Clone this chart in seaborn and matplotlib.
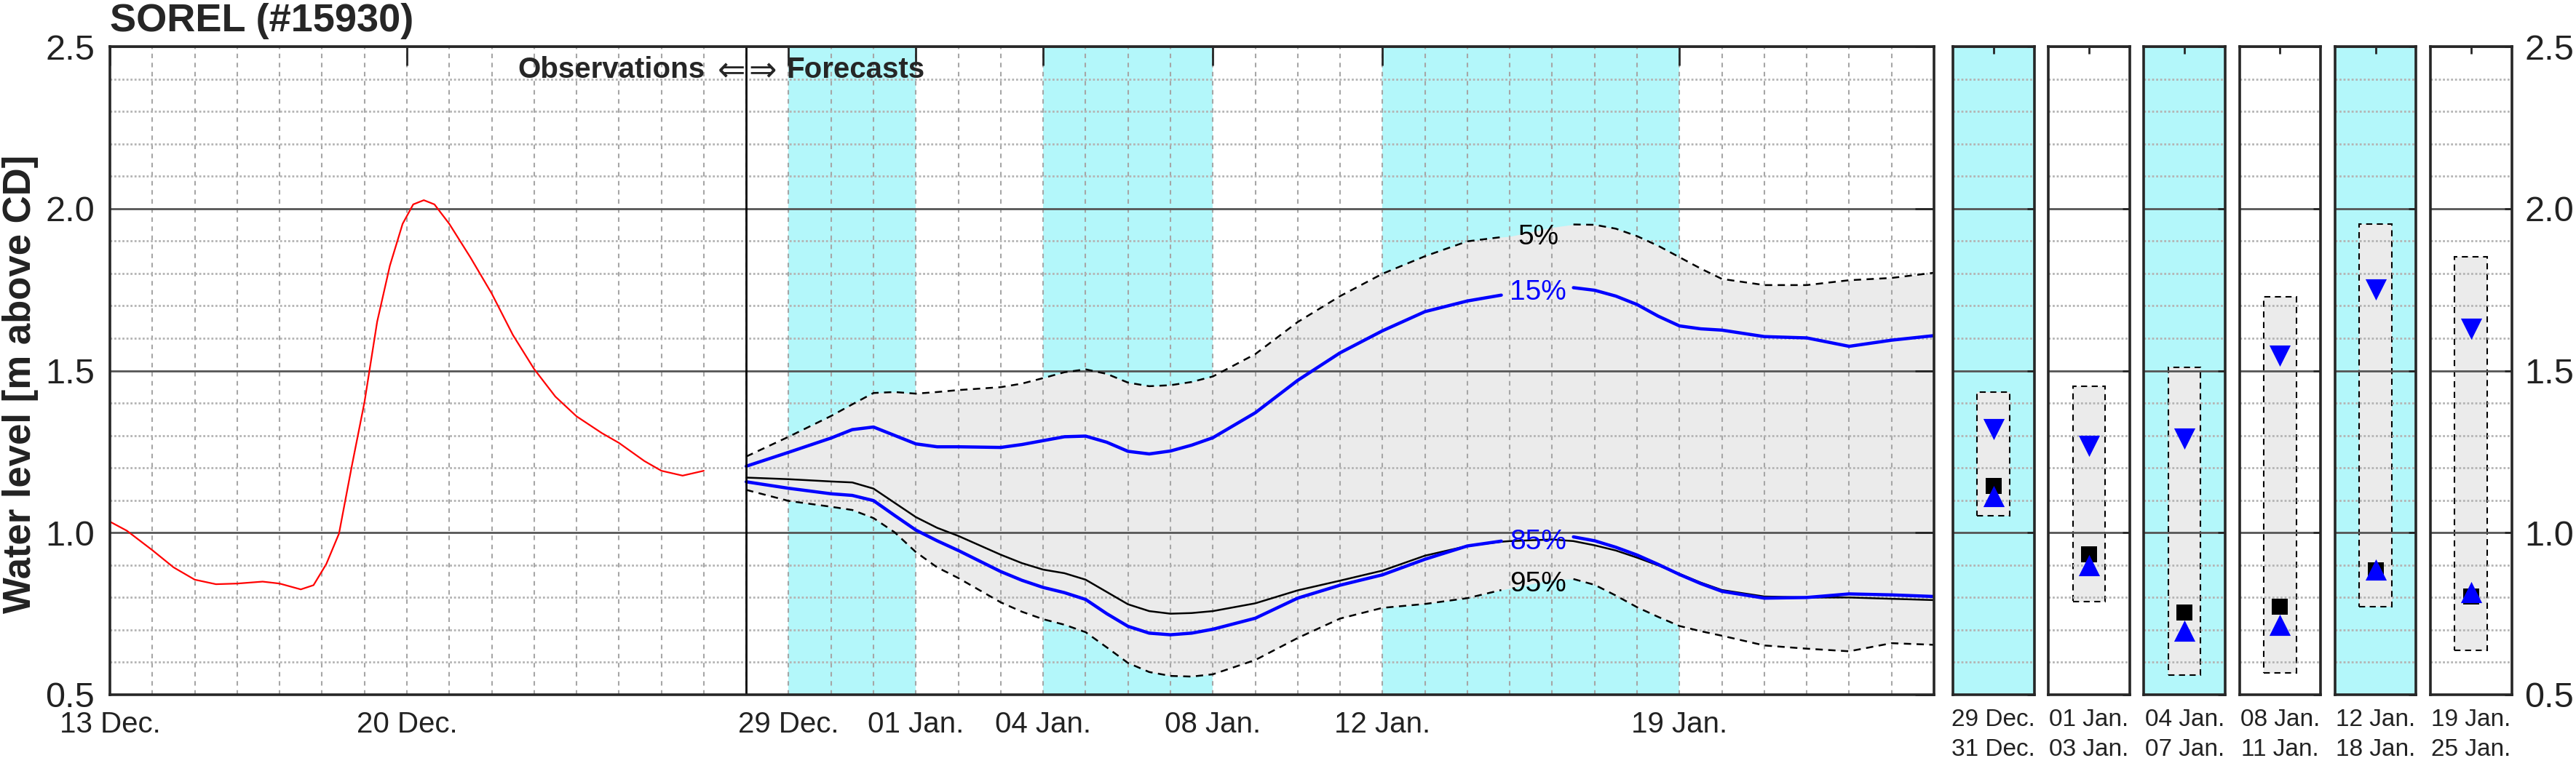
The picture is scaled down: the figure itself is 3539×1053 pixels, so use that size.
import numpy as np
import matplotlib
matplotlib.use("Agg")
import matplotlib.pyplot as plt
import seaborn as sns
from matplotlib.ticker import MultipleLocator

sns.set_style("white")
plt.rcParams['font.family'] = ['Liberation Sans', 'DejaVu Sans']

# ---- data (days counted from 13 Dec.) ----
title = "SOREL (#15930)"
obs_day = [0, 0.4, 1.0, 1.5, 2.0, 2.5, 3.0, 3.6, 4.0, 4.5, 4.8, 5.1, 5.4, 5.7, 6.0, 6.3,
           6.6, 6.9, 7.15, 7.4, 7.65, 8.0, 8.5, 9.0, 9.5, 10.0, 10.5, 11.0, 11.6, 12.0,
           12.6, 13.0, 13.5, 14.0]
obs_level = [1.034, 1.006, 0.946, 0.893, 0.855, 0.841, 0.843, 0.849, 0.843, 0.825, 0.838,
             0.903, 0.997, 1.204, 1.402, 1.651, 1.824, 1.953, 2.013, 2.026, 2.013, 1.953,
             1.849, 1.738, 1.610, 1.505, 1.420, 1.359, 1.307, 1.277, 1.221, 1.191, 1.176,
             1.191]

fc_day = [15, 16, 17, 17.5, 18, 18.5, 19, 19.5, 20, 21, 21.5, 22, 22.5, 23, 23.5, 24, 24.5,
          25, 25.5, 26, 27, 28, 29, 30, 31, 32, 32.8, 33, 34, 34.5, 35, 35.5, 36, 36.5, 37,
          37.5, 38, 39, 40, 41, 42, 43]
q05 = [1.235, 1.296, 1.360, 1.396, 1.431, 1.434, 1.429, 1.434, 1.440, 1.449, 1.460, 1.477,
       1.495, 1.504, 1.490, 1.463, 1.452, 1.455, 1.465, 1.482, 1.551, 1.650, 1.730, 1.799,
       1.853, 1.899, 1.912, 1.914, 1.942, 1.951, 1.950, 1.938, 1.915, 1.885, 1.850, 1.815,
       1.783, 1.764, 1.764, 1.779, 1.786, 1.802]
q15 = [1.205, 1.248, 1.292, 1.318, 1.326, 1.300, 1.274, 1.265, 1.265, 1.263, 1.272, 1.284,
       1.296, 1.298, 1.279, 1.251, 1.243, 1.252, 1.270, 1.293, 1.370, 1.470, 1.555, 1.623,
       1.682, 1.715, 1.733, 1.735, 1.748, 1.756, 1.748, 1.730, 1.704, 1.668, 1.638, 1.629,
       1.625, 1.605, 1.601, 1.575, 1.594, 1.608]
q50 = [1.170, 1.165, 1.158, 1.155, 1.136, 1.092, 1.048, 1.015, 0.990, 0.932, 0.906, 0.886,
       0.875, 0.855, 0.817, 0.779, 0.758, 0.750, 0.752, 0.758, 0.782, 0.822, 0.852, 0.883,
       0.929, 0.959, 0.972, 0.974, 0.979, 0.974, 0.961, 0.945, 0.923, 0.899, 0.873, 0.846,
       0.823, 0.803, 0.800, 0.800, 0.796, 0.792]
q85 = [1.157, 1.137, 1.120, 1.115, 1.099, 1.053, 1.008, 0.975, 0.945, 0.880, 0.853, 0.831,
       0.815, 0.794, 0.750, 0.711, 0.690, 0.685, 0.690, 0.702, 0.736, 0.798, 0.838, 0.870,
       0.918, 0.959, 0.974, 0.976, 0.985, 0.987, 0.975, 0.955, 0.931, 0.902, 0.871, 0.843,
       0.819, 0.798, 0.800, 0.811, 0.808, 0.803]
q95 = [1.132, 1.098, 1.080, 1.070, 1.045, 1.001, 0.940, 0.893, 0.860, 0.785, 0.756, 0.733,
       0.716, 0.693, 0.646, 0.598, 0.570, 0.558, 0.556, 0.563, 0.607, 0.675, 0.735, 0.768,
       0.780, 0.798, 0.823, 0.828, 0.855, 0.857, 0.839, 0.806, 0.770, 0.740, 0.712, 0.696,
       0.682, 0.652, 0.642, 0.634, 0.659, 0.654]

tick_days = [0, 7, 16, 19, 22, 26, 30, 37]
tick_labels = ["13 Dec.", "20 Dec.", "29 Dec.", "01 Jan.", "04 Jan.", "08 Jan.", "12 Jan.", "19 Jan."]
shade_periods = [(16, 19), (22, 26), (30, 37)]
day_max = 43

period_labels = ["29 Dec.\n31 Dec.", "01 Jan.\n03 Jan.", "04 Jan.\n07 Jan.",
                 "08 Jan.\n11 Jan.", "12 Jan.\n18 Jan.", "19 Jan.\n25 Jan."]
period_shaded = [True, False, True, False, True, False]
period_low = [1.052, 0.788, 0.561, 0.568, 0.771, 0.638]
period_high = [1.433, 1.451, 1.510, 1.728, 1.952, 1.851]
period_q15 = [1.319, 1.267, 1.290, 1.547, 1.751, 1.629]
period_q50 = [1.144, 0.934, 0.754, 0.771, 0.884, 0.802]
period_q85 = [1.113, 0.900, 0.698, 0.715, 0.885, 0.816]

# ---- styles ----
CYAN = "#b3f7fa"
BAND = "#ebebeb"
EDGE = "#262626"
W, H = 3539, 1053
label_gap = (32.8, 34.5)
label_day = 33.67


def style_grid(ax, xgrid=True):
    ax.set_axisbelow(True)
    ax.yaxis.set_minor_locator(MultipleLocator(0.1))
    ax.grid(which="minor", axis="y", color="#b4b4b4", ls=(0, (1, 1)), lw=2)
    ax.grid(which="major", axis="y", color="#555555", lw=2)
    if xgrid:
        ax.xaxis.set_minor_locator(MultipleLocator(1))
        ax.grid(which="both", axis="x", color="#a6a6a6", ls=(0, (3, 3)), lw=1.5)
    ax.tick_params(which="minor", length=0)
    for s in ax.spines.values():
        s.set_color(EDGE)
        s.set_linewidth(2.6)
        s.set_zorder(5)


def draw_line(ax, x, y, gap=None, **kw):
    x = np.asarray(x, float)
    y = np.asarray(y, float)
    parts = [np.ones(len(x), bool)] if gap is None else [x <= gap[0], x >= gap[1]]
    for m in parts:
        sns.lineplot(x=x[m], y=y[m], ax=ax, sort=False, estimator=None, **kw)


fig = plt.figure(figsize=(W / 100, H / 100), dpi=100)
ax = fig.add_axes([151 / W, 1 - 955 / H, 2506 / W, 891 / H])

for a, b in shade_periods:
    ax.axvspan(a, b, color=CYAN, lw=0, zorder=0.1)
ax.fill_between(fc_day, q95, q05, color=BAND, lw=0, zorder=0.3)

draw_line(ax, obs_day, obs_level, color="red", lw=1.6, zorder=3)
draw_line(ax, fc_day, q05, gap=label_gap, color="black", lw=1.8, ls=(0, (4, 3)), zorder=3)
draw_line(ax, fc_day, q95, gap=label_gap, color="black", lw=1.8, ls=(0, (4, 3)), zorder=3)
draw_line(ax, fc_day, q50, color="black", lw=1.8, zorder=3)
draw_line(ax, fc_day, q15, gap=label_gap, color="blue", lw=3.2, zorder=4)
draw_line(ax, fc_day, q85, gap=label_gap, color="blue", lw=3.2, zorder=4)
ax.axvline(fc_day[0], color="black", lw=2, zorder=4)

for txt, yv, col in [("5%", 1.890, "black"), ("15%", 1.719, "blue"),
                     ("85%", 0.948, "blue"), ("95%", 0.818, "black")]:
    ax.text(label_day, yv, txt, ha="center", va="baseline", fontsize=28, color=col, zorder=6)

ann = dict(xycoords="data", textcoords="offset points", va="baseline", zorder=6)
ax.annotate("Observations", xy=(fc_day[0], 2.404), xytext=(-41, 0), ha="right",
            fontweight="bold", fontsize=29, **ann)
ax.annotate("\u21d0", xy=(fc_day[0], 2.394), xytext=(-0.5, 0), ha="right",
            family="DejaVu Sans", fontsize=33, **ann)
ax.annotate("\u21d2", xy=(fc_day[0], 2.394), xytext=(2.5, 0), ha="left",
            family="DejaVu Sans", fontsize=33, **ann)
ax.annotate("Forecasts", xy=(fc_day[0], 2.404), xytext=(40, 0), ha="left",
            fontweight="bold", fontsize=29, **ann)

ax.set_xlim(0, day_max)
ax.set_ylim(0.5, 2.5)
ax.set_xticks(tick_days)
ax.set_xticklabels(tick_labels)
ax.set_yticks([0.5, 1.0, 1.5, 2.0, 2.5])
ax.set_yticklabels(["0.5", "1.0", "1.5", "2.0", "2.5"])
style_grid(ax)
ax.tick_params(which="major", direction="in", length=18.7, width=2, color=EDGE,
               top=True, right=True)
ax.tick_params(axis="x", labelsize=29, pad=16, labelcolor="#222222")
ax.tick_params(axis="y", labelsize=35, pad=15, labelcolor="#222222")
ax.set_xlabel("")
ax.set_ylabel("")

fig.text(151 / W, 1 - 43 / H, title, ha="left", va="baseline", fontsize=39, fontweight="bold")
fig.text(28 / W, 1 - 528 / H, "Water level [m above CD]", rotation=90, ha="center",
         va="center", fontsize=38, fontweight="bold", color="#222222")

# ---- period summary panels ----
for i, lab in enumerate(period_labels):
    left = 2683 + i * 131.2
    pax = fig.add_axes([left / W, 1 - 955 / H, 111.5 / W, 891 / H])
    if period_shaded[i]:
        pax.set_facecolor(CYAN)
    pax.bar([0.5], [period_high[i] - period_low[i]], bottom=[period_low[i]], width=0.4,
            color=BAND, edgecolor="black", linestyle=(0, (4, 3)), linewidth=1.5, zorder=0.3)
    sns.scatterplot(x=[0.5], y=[period_q50[i]], marker="s", s=240, color="black",
                    linewidth=0, ax=pax, zorder=6)
    sns.scatterplot(x=[0.5], y=[period_q85[i]], marker="^", s=441, color="blue",
                    linewidth=0, ax=pax, zorder=7)
    sns.scatterplot(x=[0.5], y=[period_q15[i]], marker="v", s=441, color="blue",
                    linewidth=0, ax=pax, zorder=7)
    pax.set_xlim(0, 1)
    pax.set_ylim(0.5, 2.5)
    pax.set_xticks([0.5])
    pax.set_xticklabels([lab])
    pax.set_yticks([0.5, 1.0, 1.5, 2.0, 2.5])
    pax.set_yticklabels(["0.5", "1.0", "1.5", "2.0", "2.5"])
    style_grid(pax, xgrid=False)
    pax.tick_params(which="major", direction="in", length=7.5, width=2, color=EDGE,
                    top=True, right=True, labelleft=False)
    pax.tick_params(axis="x", labelsize=24, pad=14, labelcolor="#222222")
    for t in pax.get_xticklabels():
        t.set_linespacing(1.4)
    if i == len(period_labels) - 1:
        pax.tick_params(axis="y", labelright=True, labelsize=35, pad=13, labelcolor="#222222")
    pax.set_xlabel("")
    pax.set_ylabel("")

fig.savefig("out.png", dpi=100)
